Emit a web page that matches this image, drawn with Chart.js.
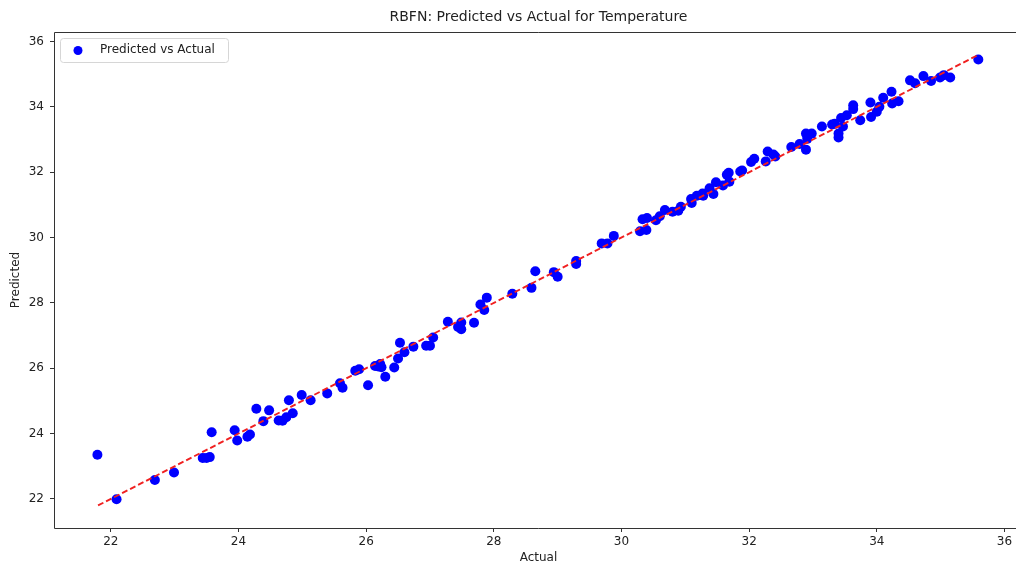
<!DOCTYPE html>
<html>
<head>
<meta charset="utf-8">
<script src="https://cdn.jsdelivr.net/npm/chart.js@4.4.0/dist/chart.umd.min.js"></script>
<style>
  html, body { margin: 0; padding: 0; background: #fff; overflow: hidden; }
  #chart { position: absolute; left: 0; top: 0; }
</style>
</head>
<body>
<canvas id="chart" width="1030" height="569"></canvas>
<script>
// RBFN 예측값 vs 실제값 (기온)
const actual = [
  21.79, 22.09, 22.69, 22.99, 23.44, 23.50, 23.55, 23.58, 23.94, 23.98,
  24.14, 24.18, 24.28, 24.39, 24.48, 24.63, 24.69, 24.75, 24.85, 24.79,
  24.99, 25.13, 25.39, 25.59, 25.63, 25.83, 25.89, 26.03, 26.14, 26.19,
  26.22, 26.24, 26.30, 26.44, 26.50, 26.53, 26.60, 26.74, 26.94, 27.00,
  27.05, 27.28, 27.44, 27.49, 27.49, 27.69, 27.79, 27.85, 27.89, 28.29,
  28.59, 28.65, 28.94, 29.00, 29.29, 29.29, 29.69, 29.78, 29.88, 30.29,
  30.39, 30.33, 30.40, 30.54, 30.60, 30.68, 30.80, 30.89, 30.93, 31.09,
  31.10, 31.18, 31.27, 31.28, 31.38, 31.44, 31.48, 31.59, 31.65, 31.68,
  31.69, 31.86, 31.89, 32.03, 32.08, 32.26, 32.29, 32.38, 32.41, 32.66,
  32.79, 32.89, 32.89, 32.98, 32.91, 33.14, 33.30, 33.34, 33.40, 33.40,
  33.44, 33.47, 33.53, 33.63, 33.63, 33.74, 33.90, 33.91, 34.00, 34.04,
  34.10, 34.23, 34.24, 34.34, 34.52, 34.60, 34.73, 34.85, 34.99, 35.05,
  35.15, 35.59,
];
const predicted = [
  23.35, 21.99, 22.58, 22.81, 23.25, 23.25, 23.28, 24.04, 24.10, 23.79,
  23.90, 23.97, 24.76, 24.38, 24.71, 24.40, 24.39, 24.50, 24.62, 25.02,
  25.18, 25.02, 25.23, 25.54, 25.40, 25.92, 25.97, 25.48, 26.07, 26.05,
  26.13, 26.03, 25.74, 26.02, 26.30, 26.78, 26.49, 26.66, 26.69, 26.69,
  26.94, 27.42, 27.26, 27.40, 27.19, 27.39, 27.95, 27.78, 28.16, 28.28,
  28.46, 28.97, 28.94, 28.80, 29.28, 29.19, 29.82, 29.82, 30.05, 30.19,
  30.23, 30.56, 30.60, 30.53, 30.65, 30.84, 30.79, 30.82, 30.94, 31.18,
  31.06, 31.28, 31.35, 31.28, 31.51, 31.33, 31.69, 31.59, 31.92, 31.98,
  31.71, 32.02, 32.05, 32.31, 32.41, 32.33, 32.63, 32.54, 32.48, 32.77,
  32.86, 32.69, 33.18, 33.18, 33.02, 33.40, 33.46, 33.48, 33.18, 33.06,
  33.66, 33.40, 33.74, 34.05, 33.93, 33.59, 34.13, 33.69, 33.85, 34.00,
  34.28, 34.46, 34.10, 34.17, 34.81, 34.72, 34.94, 34.79, 34.90, 34.97,
  34.90, 35.45,
];
// 대각선 (실제 최소 ~ 최대)
const idealLine = [21.8, 35.6];
const tickValues = [22, 24, 26, 28, 30, 32, 34, 36];

const INK = '#222';
const FONT = "'DejaVu Sans', sans-serif";

// 축 테두리 (위/왼/아래 — 오른쪽은 잘려서 안 보임)
const frame = {
  id: 'frame',
  afterDatasetsDraw(chart) {
    const { ctx, chartArea: a } = chart;
    ctx.save();
    ctx.strokeStyle = '#333';
    ctx.lineWidth = 1;
    ctx.beginPath();
    ctx.moveTo(a.right, a.top + 0.5);
    ctx.lineTo(a.left + 0.5, a.top + 0.5);
    ctx.lineTo(a.left + 0.5, a.bottom + 0.5);
    ctx.lineTo(a.right, a.bottom + 0.5);
    ctx.stroke();
    ctx.restore();
  },
};

// matplotlib 스타일 범례 (왼쪽 위, 차트 안쪽)
const legendBox = {
  id: 'legendBox',
  afterDraw(chart) {
    const ds = chart.data.datasets[0];
    const { ctx, chartArea: a } = chart;
    const x = a.left + 6, y = a.top + 6, w = 168, h = 24;
    ctx.save();
    ctx.beginPath();
    ctx.roundRect(x + 0.5, y + 0.5, w, h, 3);
    ctx.fillStyle = 'rgba(255,255,255,0.8)';
    ctx.fill();
    ctx.strokeStyle = '#d6d6d6';
    ctx.lineWidth = 1;
    ctx.stroke();
    ctx.beginPath();
    ctx.arc(x + 18, y + 12.5, 4.5, 0, Math.PI * 2);
    ctx.fillStyle = ds.backgroundColor;
    ctx.fill();
    ctx.fillStyle = INK;
    ctx.font = `12px ${FONT}`;
    ctx.textBaseline = 'middle';
    ctx.fillText(ds.label, x + 40, y + 12);
    ctx.restore();
  },
};

const axisTicks = (scale) => { scale.ticks = tickValues.map((v) => ({ value: v })); };

new Chart(document.getElementById('chart'), {
  type: 'scatter',
  data: {
    datasets: [
      {
        label: 'Predicted vs Actual',
        data: actual.map((a, i) => ({ x: a, y: predicted[i] })),
        backgroundColor: '#0000ff',
        borderWidth: 0,
        pointRadius: 5,
        order: 1,
      },
      {
        type: 'line',
        label: 'ideal',
        data: idealLine.map((v) => ({ x: v, y: v })),
        borderColor: '#f02020',
        borderWidth: 1.9,
        borderDash: [6, 3],
        pointRadius: 0,
        fill: false,
        order: 0,
      },
    ],
  },
  options: {
    responsive: false,
    animation: false,
    layout: { padding: { left: 0, right: 7, top: 0, bottom: 0 } },
    plugins: {
      legend: { display: false },
      tooltip: { enabled: false },
      title: {
        display: true,
        text: 'RBFN: Predicted vs Actual for Temperature',
        color: INK,
        font: { family: FONT, size: 14, weight: 'normal' },
        fullSize: false,
        padding: { top: 9, bottom: 6.2 },
      },
    },
    scales: {
      x: {
        type: 'linear',
        min: 21.11,
        max: 36.29,
        afterBuildTicks: axisTicks,
        afterFit: (s) => { s.height = 41; },
        border: { display: false },
        grid: { drawOnChartArea: false, drawTicks: true, tickLength: 4, color: '#333' },
        ticks: { color: INK, font: { family: FONT, size: 12 }, padding: 3 },
        title: { display: true, text: 'Actual', color: INK, font: { family: FONT, size: 12 }, padding: { top: 0, bottom: 4 } },
      },
      y: {
        type: 'linear',
        min: 21.11,
        max: 36.29,
        afterBuildTicks: axisTicks,
        afterFit: (s) => { s.width = 54; },
        border: { display: false },
        grid: { drawOnChartArea: false, drawTicks: true, tickLength: 4, color: '#333' },
        ticks: { color: INK, font: { family: FONT, size: 12 }, padding: 6 },
        title: { display: true, text: 'Predicted', color: INK, font: { family: FONT, size: 12 }, padding: { top: 9, bottom: 0 } },
      },
    },
  },
  plugins: [frame, legendBox],
});
</script>
</body>
</html>
